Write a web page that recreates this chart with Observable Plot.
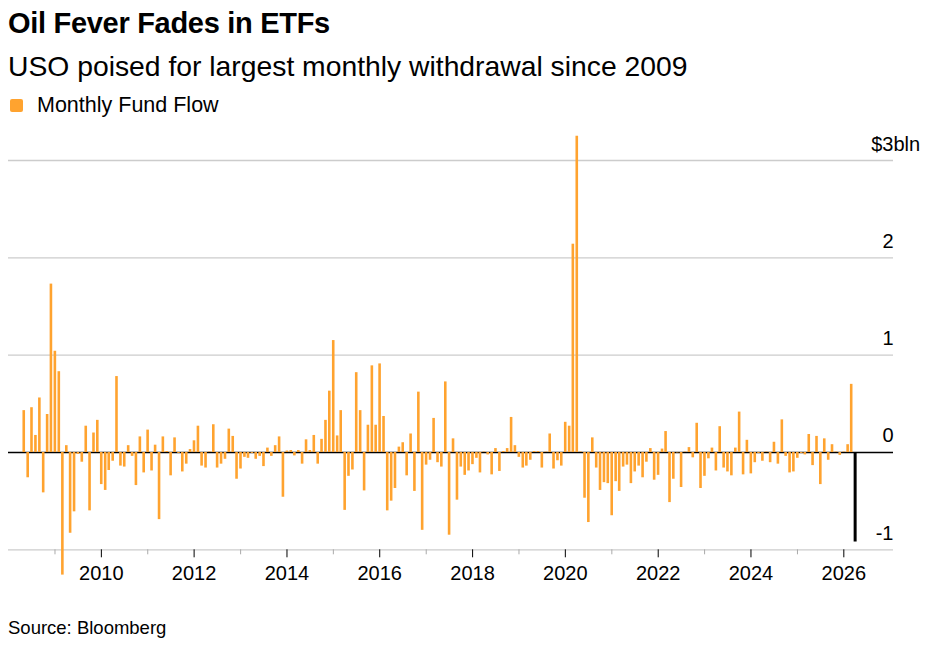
<!DOCTYPE html>
<html><head><meta charset="utf-8">
<script src="https://cdn.jsdelivr.net/npm/d3@7"></script>
<script src="https://cdn.jsdelivr.net/npm/@observablehq/plot@0.6"></script>
<style>
body{margin:0;background:#fff;font-family:"Liberation Sans",Arial,sans-serif;}
#wrap{position:relative;width:936px;height:647px;overflow:hidden;background:#fff}
.t{position:absolute;left:8px;white-space:nowrap;color:#000;line-height:1}
#title{top:9px;font-size:29px;font-weight:bold;letter-spacing:-0.3px}
#subtitle{top:52px;font-size:28.3px}
#legend{top:95px;font-size:21.5px;display:flex;align-items:center}
#legend .sw{width:13px;height:13px;border-radius:2px;background:#ffa32f;margin-left:2px;margin-right:14px}
#source{top:619px;font-size:18.5px}
#chart{position:absolute;left:0;top:120px}
</style></head>
<body><div id="wrap">
<div class="t" id="title">Oil Fever Fades in ETFs</div>
<div class="t" id="subtitle">USO poised for largest monthly withdrawal since 2009</div>
<div class="t" id="legend"><span class="sw"></span><span>Monthly Fund Flow</span></div>
<div id="chart"></div>
<div class="t" id="source">Source: Bloomberg</div>
</div>
<script>
// Monthly fund flow, $bln (2008 starts in April; 2026 ends in March)
const flows2008 = [0.43, -0.26, 0.46, 0.175, 0.56, -0.415, 0.39, 1.73, 1.04];
const flows2009 = [0.83, -1.26, 0.07, -0.83, -0.61, -0.02, -0.10, 0.27, -0.60, 0.20, 0.33, -0.33];
const flows2010 = [-0.39, -0.185, -0.09, 0.78, -0.14, -0.15, 0.07, -0.04, -0.34, 0.16, -0.21, 0.23];
const flows2011 = [-0.19, 0.075, -0.69, 0.16, 0.01, -0.24, 0.15, -0.01, -0.20, -0.12, 0.03, 0.12];
const flows2012 = [0.27, -0.14, -0.16, 0.005, 0.285, -0.16, -0.12, -0.07, 0.24, 0.165, -0.275, -0.17];
const flows2013 = [-0.05, -0.06, -0.01, -0.07, -0.04, -0.145, 0.045, -0.04, 0.07, 0.16, -0.46, 0.015];
const flows2014 = [0.02, -0.035, 0.02, -0.12, 0.13, 0.02, 0.175, -0.12, 0.135, 0.33, 0.63, 1.15];
const flows2015 = [0.17, 0.43, -0.595, -0.245, -0.18, 0.82, 0.43, -0.395, 0.28, 0.89, 0.28, 0.91];
const flows2016 = [0.37, -0.60, -0.50, -0.37, 0.055, 0.10, -0.24, 0.19, -0.40, 0.62, -0.80, -0.13];
const flows2017 = [-0.08, 0.35, -0.105, -0.15, 0.725, -0.85, 0.14, -0.49, -0.15, -0.235, -0.19, -0.125];
const flows2018 = [-0.06, -0.21, 0.005, -0.025, -0.23, 0.04, -0.195, 0.01, 0.04, 0.36, 0.07, -0.05];
const flows2019 = [-0.16, -0.14, -0.08, 0.01, 0.01, -0.16, 0.005, 0.19, -0.17, -0.085, -0.14, 0.31];
const flows2020 = [0.27, 2.14, 3.25, 0.005, -0.47, -0.72, 0.15, -0.16, -0.39, -0.31, -0.32, -0.65];
const flows2021 = [-0.30, -0.40, -0.15, -0.13, -0.32, -0.20, -0.14, -0.26, -0.10, 0.04, -0.285, -0.235];
const flows2022 = [0.035, 0.215, -0.515, -0.275, -0.005, -0.36, 0.005, 0.05, -0.055, 0.30, -0.37, -0.245];
const flows2023 = [-0.065, 0.045, -0.19, 0.265, -0.16, -0.20, -0.24, 0.045, 0.415, -0.23, 0.125, -0.22];
const flows2024 = [-0.105, -0.01, -0.09, 0.005, -0.105, 0.105, -0.12, 0.335, -0.04, -0.21, -0.20, -0.06];
const flows2025 = [-0.01, -0.025, 0.185, -0.135, 0.165, -0.33, 0.14, -0.08, 0.08, 0.005, -0.03, 0.005];
const flows2026 = [0.08, 0.70, -0.92];

const firstYear = 2008, firstMonth = 4;          // April 2008
const highlightMonth = "2026-03";                // current month, drawn in black

const yTicks = [-1, 0, 1, 2, 3];
const yTickLabels = ["-1", "0", "1", "2", "$3"];
const yUnit = "bln";
const majorYears = [2010, 2012, 2014, 2016, 2018, 2020, 2022, 2024, 2026];
const minorYears = [2009, 2011, 2013, 2015, 2017, 2019, 2021, 2023, 2025];

const orange = "#ffa32f";

const yearly = [flows2008, flows2009, flows2010, flows2011, flows2012, flows2013, flows2014,
  flows2015, flows2016, flows2017, flows2018, flows2019, flows2020, flows2021, flows2022,
  flows2023, flows2024, flows2025, flows2026];

const data = [];
yearly.forEach((vals, yi) => {
  const year = firstYear + yi;
  const start = yi === 0 ? firstMonth : 1;
  vals.forEach((v, i) => {
    const m = start + i;
    data.push({
      date: new Date(Date.UTC(year, m, 0)),   // month end
      value: v,
      month: `${year}-${String(m).padStart(2, "0")}`
    });
  });
});

const yearDate = y => new Date(Date.UTC(y, 0, 1));
const xMin = new Date(Date.UTC(2008, 0, 1));
const xMax = new Date(Date.UTC(2027, 0, 27));

const chart = Plot.plot({
  width: 936, height: 470,
  marginLeft: 8, marginRight: 43, marginTop: 40, marginBottom: 40.7,
  style: {fontFamily: '"Liberation Sans", Arial, sans-serif', fontSize: "20px", color: "#000", background: "transparent", overflow: "visible"},
  x: {type: "utc", domain: [xMin, xMax], axis: null},
  y: {domain: [-1, 3], axis: null},
  marks: [
    Plot.ruleY(yTicks.filter(d => d !== 0), {y: d => d, stroke: "#cccccc", strokeWidth: 1.3}),
    Plot.ruleY([0], {y: d => d, stroke: "#000", strokeWidth: 1.5}),
    Plot.ruleX(data.filter(d => d.month !== highlightMonth), {x: "date", y1: 0, y2: "value", stroke: orange, strokeWidth: 2.6}),
    Plot.ruleX(data.filter(d => d.month === highlightMonth), {x: "date", y1: 0, y2: "value", stroke: "#000", strokeWidth: 3}),
    Plot.axisX(minorYears.map(yearDate), {anchor: "bottom", tickSize: 5, tickFormat: () => "", stroke: "#aaa"}),
    Plot.axisX(majorYears.map(yearDate), {anchor: "bottom", tickSize: 8, tickPadding: 8, tickFormat: d => String(d.getUTCFullYear()), stroke: "#000", fill: "#000", fontSize: 20}),
    Plot.text(yTicks, {x: () => xMax, y: d => d, text: (d, i) => yTickLabels[i], textAnchor: "end", lineAnchor: "bottom", dy: -10, fontSize: 20, fill: "#000"}),
    Plot.text([3], {x: () => xMax, y: d => d, text: () => yUnit, textAnchor: "start", lineAnchor: "bottom", dy: -10, fontSize: 20, fill: "#000"})
  ]
});
document.getElementById("chart").appendChild(chart);
</script>
</body></html>
